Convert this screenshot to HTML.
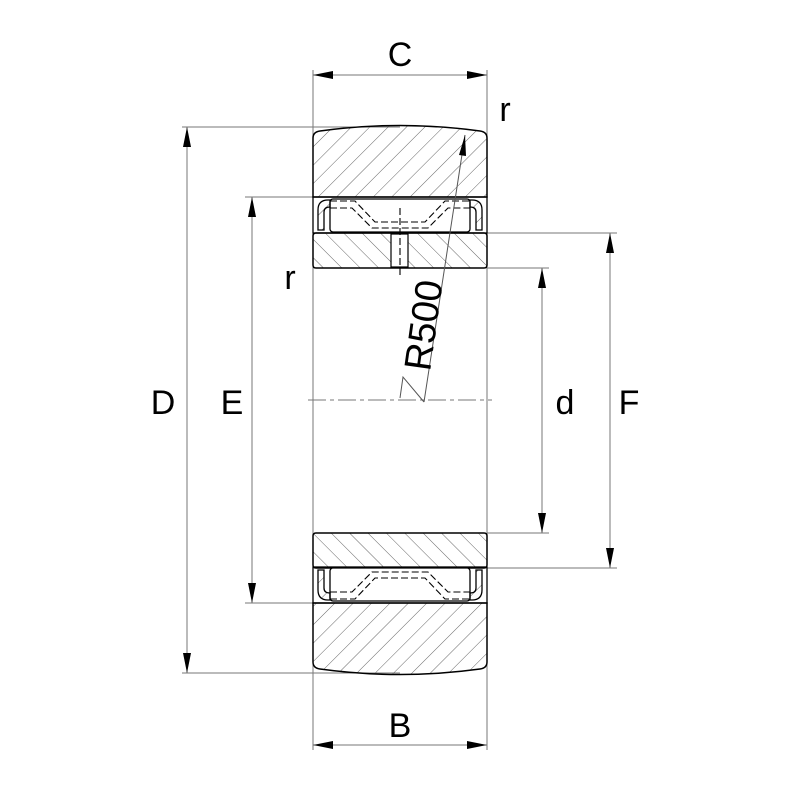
<!DOCTYPE html>
<html><head><meta charset="utf-8"><style>html,body{margin:0;padding:0;background:#fff}svg{display:block}</style></head>
<body>
<svg width="800" height="800" viewBox="0 0 800 800" xmlns="http://www.w3.org/2000/svg">
<defs>
<pattern id="h1" width="13" height="13" patternUnits="userSpaceOnUse" patternTransform="rotate(45)">
<line x1="0" y1="0" x2="0" y2="13" stroke="#555" stroke-width="0.9"/></pattern>
<pattern id="h2" width="13" height="13" patternUnits="userSpaceOnUse" patternTransform="rotate(-45)">
<line x1="0" y1="0" x2="0" y2="13" stroke="#555" stroke-width="0.9"/></pattern>
<marker id="a" viewBox="0 0 20 8" refX="20" refY="4" markerWidth="20" markerHeight="8" markerUnits="userSpaceOnUse" orient="auto-start-reverse"><path d="M0,0 L20,4 L0,8 Z" fill="#000"/></marker>
</defs>
<g stroke="#777" stroke-width="1" fill="none">
<line x1="313" y1="70" x2="313" y2="750"/>
<line x1="487" y1="70" x2="487" y2="750"/>
<line x1="182" y1="127" x2="400" y2="127"/>
<line x1="182" y1="673" x2="400" y2="673"/>
<line x1="245" y1="197" x2="313" y2="197"/>
<line x1="245" y1="603" x2="313" y2="603"/>
<line x1="487" y1="233" x2="617" y2="233"/>
<line x1="487" y1="568" x2="617" y2="568"/>
<line x1="487" y1="268" x2="549" y2="268"/>
<line x1="487" y1="533" x2="549" y2="533"/>
</g>
<g stroke="#777" stroke-width="1" fill="none" marker-start="url(#a)" marker-end="url(#a)">
<line x1="313" y1="75" x2="487" y2="75"/>
<line x1="313" y1="745" x2="487" y2="745"/>
<line x1="187" y1="127" x2="187" y2="673"/>
<line x1="252" y1="197" x2="252" y2="603"/>
<line x1="542" y1="268" x2="542" y2="533"/>
<line x1="610" y1="233" x2="610" y2="568"/>
</g>
<path d="M313,138 Q313,132 320,131 Q400,120 480,131 Q487,132 487,138 L487,197 L313,197 Z" fill="url(#h1)" stroke="#000" stroke-width="1.5"/>
<path d="M313,662 Q313,668 320,669 Q400,680 480,669 Q487,668 487,662 L487,603 L313,603 Z" fill="url(#h1)" stroke="#000" stroke-width="1.5"/>
<path d="M316,233 L484,233 Q487,233 487,236 L487,265 Q487,268 484,268 L316,268 Q313,268 313,265 L313,236 Q313,233 316,233 Z" fill="url(#h2)" stroke="#000" stroke-width="1.5"/>
<rect x="391" y="234" width="17" height="33" fill="#fff" stroke="#000" stroke-width="1.2"/>
<path d="M316,533 L484,533 Q487,533 487,536 L487,565 Q487,568 484,568 L316,568 Q313,568 313,565 L313,536 Q313,533 316,533 Z" fill="url(#h2)" stroke="#000" stroke-width="1.5"/>
<g stroke="#000" stroke-width="1.3" fill="none">
<rect x="313" y="197" width="174" height="36"/>
<rect x="313" y="567" width="174" height="36"/>
<rect x="330" y="199" width="140" height="33" rx="3" fill="#fff"/>
<rect x="330" y="568" width="140" height="33" rx="3" fill="#fff"/>
<path d="M318,230 L318,210 Q318,200 328,200 L330,200 L330,207 Q324,207 324,212 L324,230 Z" fill="url(#h1)"/>
<path d="M482,230 L482,210 Q482,200 472,200 L470,200 L470,207 Q476,207 476,212 L476,230 Z" fill="url(#h1)"/>
<path d="M318,570 L318,590 Q318,600 328,600 L330,600 L330,593 Q324,593 324,588 L324,570 Z" fill="url(#h1)"/>
<path d="M482,570 L482,590 Q482,600 472,600 L470,600 L470,593 Q476,593 476,588 L476,570 Z" fill="url(#h1)"/>
</g>
<g stroke="#000" stroke-width="1.1" fill="none" stroke-dasharray="7,3">
<path d="M330,201 L355,201 L375,222 L425,222 L445,201 L470,201"/>
<path d="M330,208 L352,208 L372,228 L428,228 L448,208 L470,208"/>
<path d="M330,599 L355,599 L375,578 L425,578 L445,599 L470,599"/>
<path d="M330,592 L352,592 L372,572 L428,572 L448,592 L470,592"/>
<line x1="400" y1="208" x2="400" y2="275"/>
</g>
<line x1="308" y1="400" x2="492" y2="400" stroke="#777" stroke-width="1" stroke-dasharray="18,4,4,4"/>
<line x1="424" y1="402" x2="465" y2="135" stroke="#555" stroke-width="1"/>
<path d="M465,135 L459,155 L466,156 Z" fill="#000"/>
<path d="M400,398 L403,377 L424,402" stroke="#555" stroke-width="1" fill="none"/>
<g font-family="Liberation Sans, DejaVu Sans, sans-serif" font-size="34" fill="#000">
<text x="400" y="66" text-anchor="middle">C</text>
<text x="400" y="737" text-anchor="middle">B</text>
<text x="163" y="414" text-anchor="middle">D</text>
<text x="232" y="414" text-anchor="middle">E</text>
<text x="565" y="414" text-anchor="middle">d</text>
<text x="629" y="414" text-anchor="middle">F</text>
<text x="505" y="121" text-anchor="middle">r</text>
<text x="290" y="289" text-anchor="middle">r</text>
<text transform="translate(430,372) rotate(-82)" font-size="38">R500</text>
</g>
</svg>
</body></html>
